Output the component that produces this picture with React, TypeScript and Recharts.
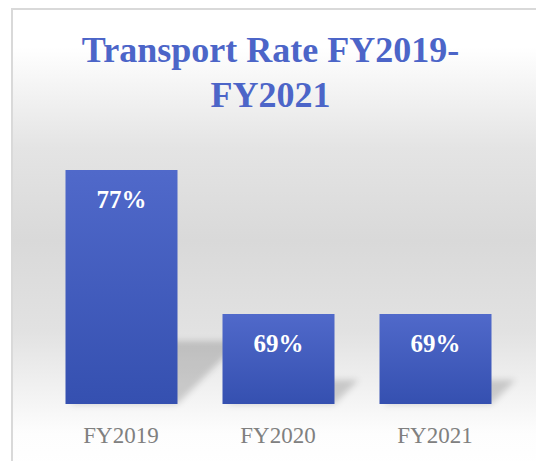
import React from "react";
import { BarChart, Bar, XAxis, YAxis, LabelList } from "recharts";

const categories: string[] = ["FY2019", "FY2020", "FY2021"];
const rates: number[] = [77, 69, 69];

const data = categories.map((name, i) => ({ name, rate: rates[i] }));

const SERIF = "'Liberation Serif', 'DejaVu Serif', serif";

// bar with a soft cast shadow thrown back and to the right
const ShadowBar = (props: any) => {
  const { x, y, width, height } = props;
  const base = y + height;
  const sh = height * 0.27;
  const right = x + width;
  const pts = [
    [x + 4, base],
    [x + 4 + sh, base - sh],
    [right + sh, base - sh],
    [right, base],
  ]
    .map((p) => p.join(","))
    .join(" ");
  return (
    <g>
      <polygon points={pts} fill="#000" fillOpacity={0.17} filter="url(#shadowBlur)" />
      <rect x={x} y={y} width={width} height={height} fill="url(#barFill)" />
    </g>
  );
};

const BarValue = (props: any) => {
  const { x, y, width, value } = props;
  return (
    <text
      x={x + width / 2}
      y={y + 38}
      textAnchor="middle"
      fill="#ffffff"
      fontFamily={SERIF}
      fontWeight="bold"
      fontSize={25}
    >
      {value}%
    </text>
  );
};

const Tick = (props: any) => {
  const { x, y, payload } = props;
  return (
    <text
      x={x}
      y={y}
      dy={39}
      textAnchor="middle"
      fill="#808080"
      fontFamily={SERIF}
      fontSize={23}
    >
      {payload.value}
    </text>
  );
};

const App: React.FC = () => {
  return (
    <div
      style={{
        position: "fixed",
        left: 0,
        top: 0,
        width: 536,
        height: 461,
        overflow: "hidden",
        background: "#ffffff",
      }}
    >
      <div
        style={{
          position: "absolute",
          left: 11,
          top: 8,
          width: 540,
          height: 460,
          border: "2px solid #d9d9d9",
          background:
            "linear-gradient(to bottom, #ffffff 8%, #e4e4e4 30%, #d9d9d9 50%, #e2e2e2 70%, #fdfdfd 92%, #ffffff 100%)",
        }}
      >
        <div
          style={{
            position: "absolute",
            left: 0,
            top: 18,
            width: 515,
            textAlign: "center",
            fontFamily: SERIF,
            fontWeight: "bold",
            fontSize: 36,
            lineHeight: "45px",
            color: "#4c65c8",
          }}
        >
          Transport Rate FY2019-
          <br />
          FY2021
        </div>
        <div style={{ position: "absolute", left: 0, top: 0 }}>
          <BarChart
            width={540}
            height={450}
            data={data}
            margin={{ top: 106, right: 39.5, left: 29.5, bottom: 16 }}
          >
            <defs>
              <linearGradient id="barFill" x1="0" y1="0" x2="0" y2="1">
                <stop offset="0%" stopColor="#5069ca" />
                <stop offset="100%" stopColor="#3550b0" />
              </linearGradient>
              <filter id="shadowBlur" x="-50%" y="-50%" width="200%" height="200%">
                <feGaussianBlur stdDeviation="3" />
              </filter>
            </defs>
            <XAxis
              dataKey="name"
              axisLine={false}
              tickLine={false}
              tickSize={0}
              tickMargin={0}
              height={40}
              interval={0}
              tick={<Tick />}
            />
            <YAxis hide domain={[64, 80]} />
            <Bar
              dataKey="rate"
              barSize={112}
              shape={<ShadowBar />}
              isAnimationActive={false}
            >
              <LabelList dataKey="rate" content={<BarValue />} />
            </Bar>
          </BarChart>
        </div>
      </div>
    </div>
  );
};

export default App;
